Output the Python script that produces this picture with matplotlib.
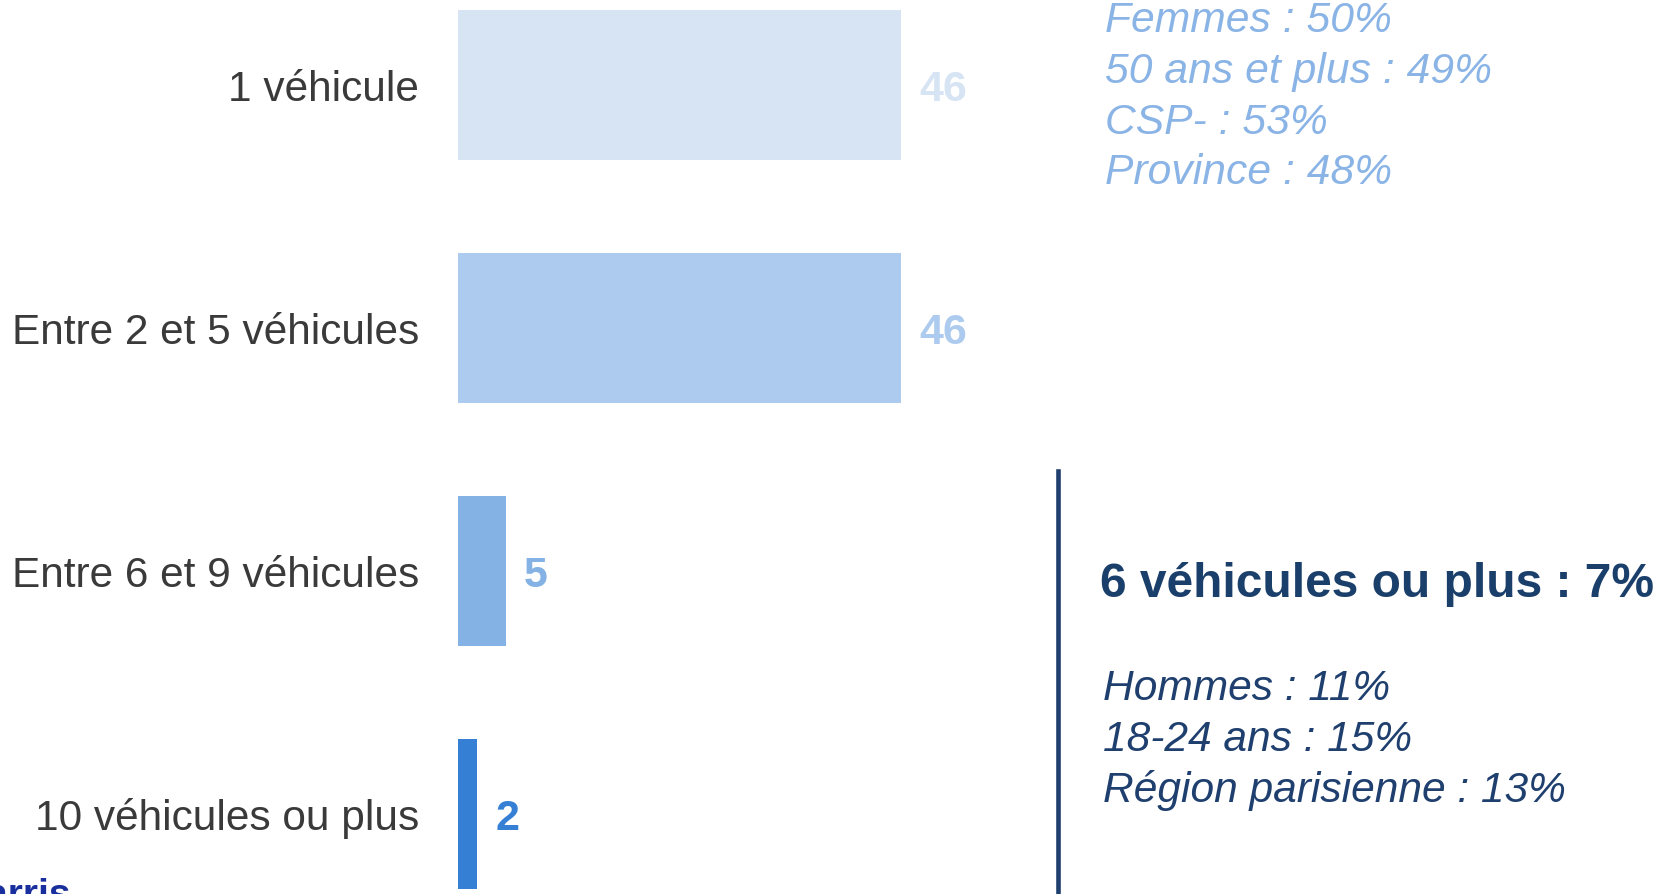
import matplotlib.pyplot as plt
from matplotlib.lines import Line2D

plt.rcParams['font.family'] = ['Liberation Sans', 'DejaVu Sans']

# Data
categories = ['1 véhicule', 'Entre 2 et 5 véhicules', 'Entre 6 et 9 véhicules', '10 véhicules ou plus']
values = [46, 46, 5, 2]
bar_colors = ['#D6E4F4', '#ADCBEE', '#85B2E4', '#3580D4']

top_lines = ['Femmes : 50%', '50 ans et plus : 49%', 'CSP- : 53%', 'Province : 48%']
bottom_title = '6 véhicules ou plus : 7%'
bottom_lines = ['Hommes : 11%', '18-24 ans : 15%', 'Région parisienne : 13%']

W, H = 1664, 894
fig = plt.figure(figsize=(W / 100, H / 100), dpi=100)

# axes placed so bars start at x=458 px
left = 458 / W
ax = fig.add_axes([left, 0, 1 - left, 1])
ax.barh(range(len(values)), values, height=0.617, color=bar_colors)
ax.set_xlim(0, (W - 458) / 9.63)
ax.set_ylim((H - 85) / 243, -85 / 243)

ax.set_yticks(range(len(categories)))
ax.set_yticklabels(categories, fontsize=30.5, color='#3a3a3a')
ax.tick_params(axis='y', length=0, pad=28)
ax.set_xticks([])
for s in ax.spines.values():
    s.set_visible(False)

# value labels
for i, (v, c) in enumerate(zip(values, bar_colors)):
    ax.annotate(str(v), (v, i), xytext=(13, -11.5), textcoords='offset points',
                va='baseline', ha='left', fontsize=31, fontweight='bold', color=c)

def px(x, y):
    return x / W, 1 - y / H

# top-right profile
for k, line in enumerate(top_lines):
    fig.text(*px(1105, 32 + 50.8 * k), line, fontsize=30.7, style='italic',
             color='#8AB4E6', va='baseline', ha='left')

# separator line
fig.add_artist(Line2D([1058 / W, 1058 / W], [0, 1 - 471 / H],
                      color='#1F3F6E', linewidth=3.3, transform=fig.transFigure))

# bottom-right profile
fig.text(*px(1100, 597), bottom_title, fontsize=34.5, fontweight='bold',
         color='#1B3F6B', va='baseline', ha='left')
for k, line in enumerate(bottom_lines):
    fig.text(*px(1103, 700 + 50.8 * k), line, fontsize=30.6, style='italic',
             color='#1F3F6E', va='baseline', ha='left')

# cut-off logo text
fig.text(*px(71, 906), 'Harris', fontsize=28, fontweight='bold',
         color='#1A2F9E', va='baseline', ha='right')

fig.savefig('out.png', dpi=100)
